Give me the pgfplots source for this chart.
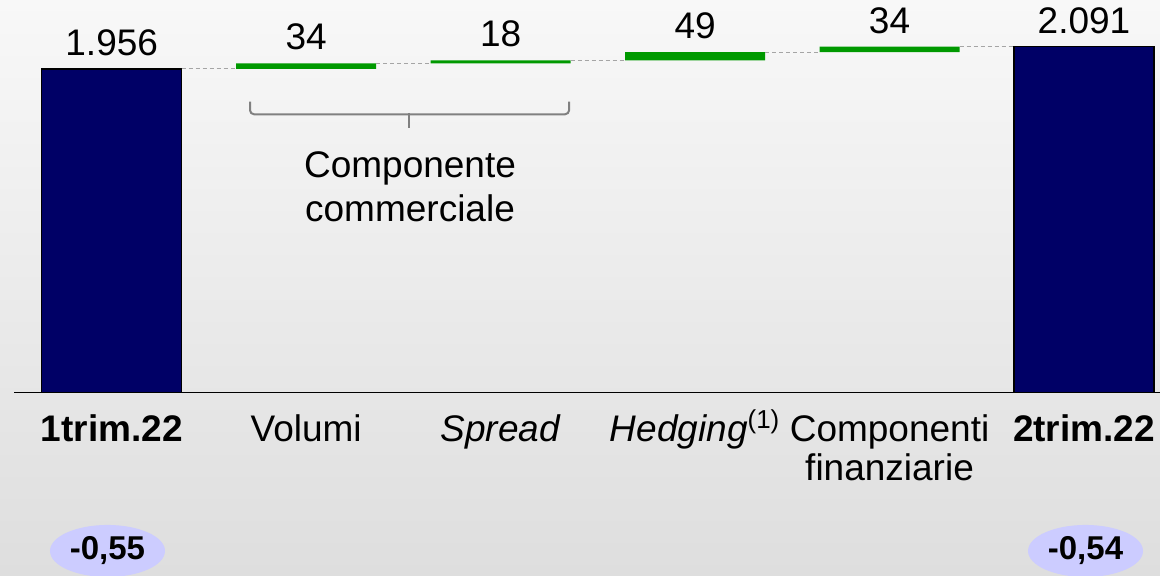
\documentclass[border=0pt]{standalone}
\usepackage{fontspec}
\setmainfont{Liberation Sans}
\usepackage{pgfplots}
\usepackage{pgfplotstable}
\pgfplotsset{compat=1.18}
\usetikzlibrary{shapes.geometric}
\definecolor{navybar}{RGB}{0,0,102}
\definecolor{greenbar}{RGB}{0,153,0}
\definecolor{bglight}{RGB}{248,248,248}
\definecolor{bgdark}{RGB}{222,222,222}
\definecolor{lav}{RGB}{204,204,255}
\definecolor{dashgray}{RGB}{165,165,165}
\definecolor{bracegray}{RGB}{128,128,128}

\pgfplotstableread{
x y
0 1956
1 0
2 0
3 0
4 0
5 2091
}\startendtab
\pgfplotstableread{
x y
0 0
1 1956
2 1990
3 2008
4 2057
5 0
}\basetab
\pgfplotstableread{
x y
0 0
1 34
2 18
3 49
4 34
5 0
}\deltatab
\pgfplotstableread{
x top label
0 1956 1.956
1 1990 34
2 2008 18
3 2057 49
4 2091 34
5 2091 2.091
}\labeltab

\pgfplotsset{
  commonaxis/.style={
    at={(7pt,91.75pt)}, anchor=south west,
    scale only axis, width=573pt, height=181.95pt,
    xmin=-0.5024, xmax=5.3908, ymin=0, ymax=2200,
    clip=false,
  },
}

\begin{document}
\begin{tikzpicture}
\shade[top color=bglight, bottom color=bgdark] (0pt,0pt) rectangle (580pt,288pt);
\begin{axis}[
  commonaxis,
  ybar stacked, bar width=70pt,
  axis x line=bottom, axis y line=none,
  x axis line style={-, line width=0.75pt, black},
  xtick={0,1,2,3,4,5},
  xticklabels={{\textbf{1trim.22}}, Volumi, {\textit{Spread}}, {\textit{Hedging}\textsuperscript{(1)}}, {\begin{tabular}[t]{@{}c@{}}Componenti\\finanziarie\end{tabular}}, {\textbf{2trim.22}}},
  major tick length=0pt,
  xticklabel style={font=\fontsize{18.5}{19.6}\selectfont, anchor=base, yshift=-24.5pt, inner sep=0pt},
  ytick=\empty,
]
\addplot[fill=navybar, draw=black, line width=0.75pt] table[x=x, y=y] {\startendtab};
\addplot[fill=none, draw=none] table[x=x, y=y] {\basetab};
\addplot[fill=greenbar, draw=none] table[x=x, y=y] {\deltatab};
\end{axis}
\begin{axis}[commonaxis, axis lines=none, xtick=\empty, ytick=\empty]
\addplot[dashgray, line width=0.5pt, dash pattern=on 2pt off 1.5pt] coordinates {(0.36,1956) (0.64,1956)};
\addplot[dashgray, line width=0.5pt, dash pattern=on 2pt off 1.5pt] coordinates {(1.36,1990) (1.64,1990)};
\addplot[dashgray, line width=0.5pt, dash pattern=on 2pt off 1.5pt] coordinates {(2.36,2008) (2.64,2008)};
\addplot[dashgray, line width=0.5pt, dash pattern=on 2pt off 1.5pt] coordinates {(3.36,2057) (3.64,2057)};
\addplot[dashgray, line width=0.5pt, dash pattern=on 2pt off 1.5pt] coordinates {(4.36,2091) (4.64,2091)};
\addplot[draw=none, mark=none, nodes near coords, point meta=explicit symbolic,
  every node near coord/.append style={font=\fontsize{18.5}{22}\selectfont, anchor=base, yshift=6.75pt, inner sep=0pt, text=black}]
  table[x=x, y=top, meta=label] {\labeltab};
\draw[bracegray, line width=1pt, rounded corners=2pt] (axis cs:0.7113,1758) -- (axis cs:0.7113,1682) -- (axis cs:1.530,1682);
\draw[bracegray, line width=1pt, rounded corners=2pt] (axis cs:2.352,1758) -- (axis cs:2.352,1682) -- (axis cs:1.530,1682);
\draw[bracegray, line width=1pt] (axis cs:1.530,1690) -- (axis cs:1.530,1599);
\node[anchor=base, inner sep=0pt, font=\fontsize{18.5}{22}\selectfont] at (axis cs:1.534,1301) {\begin{tabular}[t]{@{}c@{}}Componente\\commerciale\end{tabular}};
\node[ellipse, fill=lav, minimum width=57.5pt, minimum height=26pt, inner sep=0pt, font=\bfseries\fontsize{16.5}{19}\selectfont] at (axis cs:-0.0216,-958) {-0,55};
\node[ellipse, fill=lav, minimum width=57.5pt, minimum height=26pt, inner sep=0pt, font=\bfseries\fontsize{16.5}{19}\selectfont] at (axis cs:5.0077,-958) {-0,54};
\end{axis}
\pgfresetboundingbox
\path[use as bounding box] (0pt,0pt) rectangle (580pt,288pt);
\end{tikzpicture}
\end{document}
